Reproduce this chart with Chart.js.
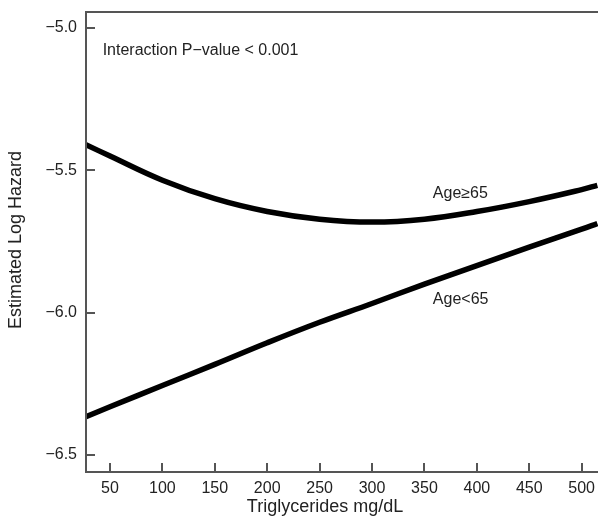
<!DOCTYPE html>
<html>
<head>
<meta charset="utf-8">
<script src="https://cdn.jsdelivr.net/npm/chart.js@4.4.0/dist/chart.umd.min.js"></script>
<style>
  body { margin: 0; background: #fff; }
  #wrap { width: 598px; height: 527px; }
</style>
</head>
<body>
<div id="wrap"><canvas id="hazardChart" width="598" height="527"></canvas></div>
<script>
// triglycerides (mg/dL) at which the curves were read
const trigValues = [27, 50, 100, 150, 200, 250, 300, 350, 400, 450, 500, 515];
// estimated log hazard, age >= 65
const hazardOld = [-5.41, -5.45, -5.535, -5.60, -5.645, -5.672, -5.682, -5.672, -5.645, -5.61, -5.568, -5.553];
// estimated log hazard, age < 65
const hazardYoung = [-6.366, -6.331, -6.256, -6.182, -6.106, -6.034, -5.968, -5.90, -5.835, -5.77, -5.707, -5.687];

const xTicks = [50, 100, 150, 200, 250, 300, 350, 400, 450, 500];
const yTicks = [-6.5, -6.0, -5.5, -5.0];
const yTickLabels = ['\u22126.5', '\u22126.0', '\u22125.5', '\u22125.0'];

const labels = [
    { text: 'Interaction P\u2212value < 0.001', x: 43, y: -5.081 },
    { text: 'Age\u226565', x: 358, y: -5.581 },
    { text: 'Age<65', x: 358, y: -5.954 }
];

const FONT = '"Liberation Sans", Arial, sans-serif';
const TEXT = '#222';
const AXIS = '#555';

const toPoints = (ys) => trigValues.map((x, i) => ({ x: x, y: ys[i] }));

// axis lines, ticks pointing inward, top frame line, annotations and axis titles
const framePlugin = {
    id: 'frame',
    afterDraw(chart) {
        const c = chart.ctx;
        const area = chart.chartArea;
        const xs = chart.scales.x;
        const ys = chart.scales.y;
        c.save();
        c.strokeStyle = AXIS;
        c.lineWidth = 2;
        c.beginPath();
        c.moveTo(area.left, area.top);
        c.lineTo(area.right, area.top);
        c.moveTo(area.left, area.top - 1);
        c.lineTo(area.left, area.bottom + 1);
        c.moveTo(area.left - 1, area.bottom);
        c.lineTo(area.right, area.bottom);
        yTicks.forEach(v => {
            const py = Math.round(ys.getPixelForValue(v));
            c.moveTo(area.left, py);
            c.lineTo(area.left + 9, py);
        });
        xTicks.forEach(v => {
            const px = Math.round(xs.getPixelForValue(v));
            c.moveTo(px, area.bottom);
            c.lineTo(px, area.bottom - 9);
        });
        c.stroke();

        c.fillStyle = TEXT;
        c.font = '16px ' + FONT;
        c.textAlign = 'left';
        c.textBaseline = 'middle';
        labels.forEach(l => {
            c.fillText(l.text, xs.getPixelForValue(l.x), ys.getPixelForValue(l.y));
        });

        c.font = '18px ' + FONT;
        c.textAlign = 'center';
        c.fillText('Triglycerides mg/dL', 325, 507);
        c.translate(16, 240);
        c.rotate(-Math.PI / 2);
        c.fillText('Estimated Log Hazard', 0, 0);
        c.restore();
    }
};

const lineStyle = {
    borderColor: '#000',
    borderWidth: 5.5,
    pointRadius: 0,
    tension: 0.4,
    fill: false
};

new Chart(document.getElementById('hazardChart'), {
    type: 'line',
    data: {
        datasets: [
            Object.assign({ label: 'Age\u226565', data: toPoints(hazardOld) }, lineStyle),
            Object.assign({ label: 'Age<65', data: toPoints(hazardYoung) }, lineStyle)
        ]
    },
    options: {
        responsive: false,
        animation: false,
        layout: { padding: { top: 12, left: 0, right: 0, bottom: 0 } },
        plugins: {
            legend: { display: false },
            tooltip: { enabled: false }
        },
        scales: {
            x: {
                type: 'linear',
                min: 27.1,
                max: 515.6,
                afterBuildTicks: (s) => { s.ticks = xTicks.map(v => ({ value: v })); },
                afterFit: (s) => { s.height = 55; s.paddingLeft = 0; s.paddingRight = 0; },
                grid: { display: false, drawTicks: false },
                border: { display: false },
                ticks: {
                    padding: 7,
                    color: TEXT,
                    maxRotation: 0,
                    autoSkip: false,
                    font: { family: FONT, size: 16 }
                }
            },
            y: {
                min: -6.56,
                max: -4.944,
                afterBuildTicks: (s) => { s.ticks = yTicks.map(v => ({ value: v })); },
                afterFit: (s) => { s.width = 86; s.paddingTop = 0; s.paddingBottom = 0; },
                grid: { display: false, drawTicks: false },
                border: { display: false },
                ticks: {
                    padding: 9,
                    color: TEXT,
                    autoSkip: false,
                    font: { family: FONT, size: 16 },
                    callback: (v) => yTickLabels[yTicks.indexOf(v)]
                }
            }
        }
    },
    plugins: [framePlugin]
});
</script>
</body>
</html>
